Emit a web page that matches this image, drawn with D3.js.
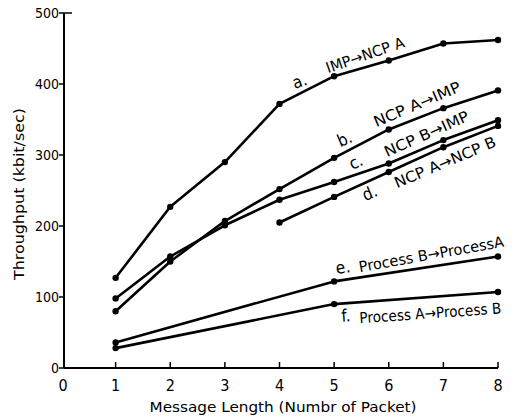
<!DOCTYPE html>
<html><head><meta charset="utf-8">
<script src="https://cdn.jsdelivr.net/npm/d3@7"></script>
<style>body{margin:0;background:#fff}svg{display:block}text{font-family:"DejaVu Sans Condensed","Liberation Sans Narrow","DejaVu Sans",sans-serif;fill:#000}</style>
</head><body>
<script>
// Data
const xTicks = [0,1,2,3,4,5,6,7,8];
const yTicks = [0,100,200,300,400,500];
const xFull = [1,2,3,4,5,6,7,8];
const seriesA = [127,227,290,372,411,433,457,462];
const seriesB = [80,150,207,252,296,336,366,391];
const seriesC = [98,157,201,237,262,288,321,349];
const xD = [4,5,6,7,8];
const seriesD = [205,241,276,311,341];
const xEF = [1,5,8];
const seriesE = [36,122,157];
const seriesF = [28,90,107];
const xTitle = "Message  Length  (Numbr of Packet)";
const yTitle = "Throughput  (kbit/sec)";
// label anchors in data units
const labels = [
  {tag:"a.", tx:4.28, ty:393, name:"IMP\u2192NCP A", nx:4.89, ny:415, rot:-19, len:82},
  {tag:"b.", tx:5.11, ty:311, name:"NCP A\u2192IMP", nx:5.77, ny:339, rot:-23, len:93},
  {tag:"c.", tx:5.33, ty:279, name:"NCP B\u2192IMP", nx:5.97, ny:297, rot:-24, len:91},
  {tag:"d.", tx:5.57, ty:235, name:"NCP A\u2192NCP B", nx:6.15, ny:253, rot:-23, len:109},
  {tag:"e.", tx:5.05, ty:132, name:"Process B\u2192ProcessA", nx:5.47, ny:135, rot:-10, len:147},
  {tag:"f.", tx:5.14, ty:65, name:"Process A\u2192Process B", nx:5.47, ny:63, rot:-4, len:142}
];

const W=514,H=419;
const svg=d3.select("body").append("svg").attr("width",W).attr("height",H);
const x=d3.scaleLinear().domain([0,8]).range([61,498]);
const y=d3.scaleLinear().domain([0,500]).range([368,13]);
const axX=64;

// axes
svg.append("line").attr("x1",axX).attr("x2",axX).attr("y1",y(500)).attr("y2",y(0)).attr("stroke","#000").attr("stroke-width",2);
svg.append("line").attr("x1",axX).attr("x2",x(8)).attr("y1",y(0)).attr("y2",y(0)).attr("stroke","#000").attr("stroke-width",2);
svg.append("line").attr("x1",axX).attr("x2",axX+8).attr("y1",y(500)).attr("y2",y(500)).attr("stroke","#000").attr("stroke-width",1.5);
const yg=svg.append("g");
yTicks.forEach(t=>{
  yg.append("line").attr("x1",axX-5).attr("x2",axX).attr("y1",y(t)).attr("y2",y(t)).attr("stroke","#000").attr("stroke-width",1.5);
  yg.append("text").attr("x",axX-5).attr("y",y(t)+5).attr("text-anchor","end").attr("font-size",14).text(t);
});
const xg=svg.append("g");
xTicks.forEach(t=>{
  if(t>0) xg.append("line").attr("x1",x(t)).attr("x2",x(t)).attr("y1",y(0)).attr("y2",y(0)-6).attr("stroke","#000").attr("stroke-width",1.5);
  xg.append("text").attr("x",t===0?63:x(t)).attr("y",391).attr("text-anchor","middle").attr("font-size",16).text(t);
});
svg.append("text").attr("x",283).attr("y",412).attr("text-anchor","middle").attr("font-size",14)
  .attr("textLength",267).attr("lengthAdjust","spacingAndGlyphs").text(xTitle);
svg.append("text").attr("transform","translate(24,194) rotate(-90)").attr("text-anchor","middle").attr("font-size",14)
  .attr("textLength",172).attr("lengthAdjust","spacingAndGlyphs").text(yTitle);

// series
const series=[[xFull,seriesA],[xFull,seriesB],[xFull,seriesC],[xD,seriesD],[xEF,seriesE],[xEF,seriesF]];
const line=d3.line().x(d=>x(d[0])).y(d=>y(d[1]));
series.forEach(([xs,vs])=>{
  const pts=xs.map((v,i)=>[v,vs[i]]);
  svg.append("path").attr("d",line(pts)).attr("fill","none").attr("stroke","#000").attr("stroke-width",2.6).attr("stroke-linejoin","round");
  svg.selectAll(null).data(pts).enter().append("circle").attr("cx",d=>x(d[0])).attr("cy",d=>y(d[1])).attr("r",3.2).attr("fill","#000");
});

// labels
labels.forEach(l=>{
  svg.append("text").attr("transform",`translate(${x(l.tx)},${y(l.ty)}) rotate(${l.rot})`).attr("font-size",17).text(l.tag);
  svg.append("text").attr("transform",`translate(${x(l.nx)},${y(l.ny)}) rotate(${l.rot})`).attr("font-size",15)
    .attr("textLength",l.len).attr("lengthAdjust","spacingAndGlyphs").text(l.name);
});
</script>
</body></html>
